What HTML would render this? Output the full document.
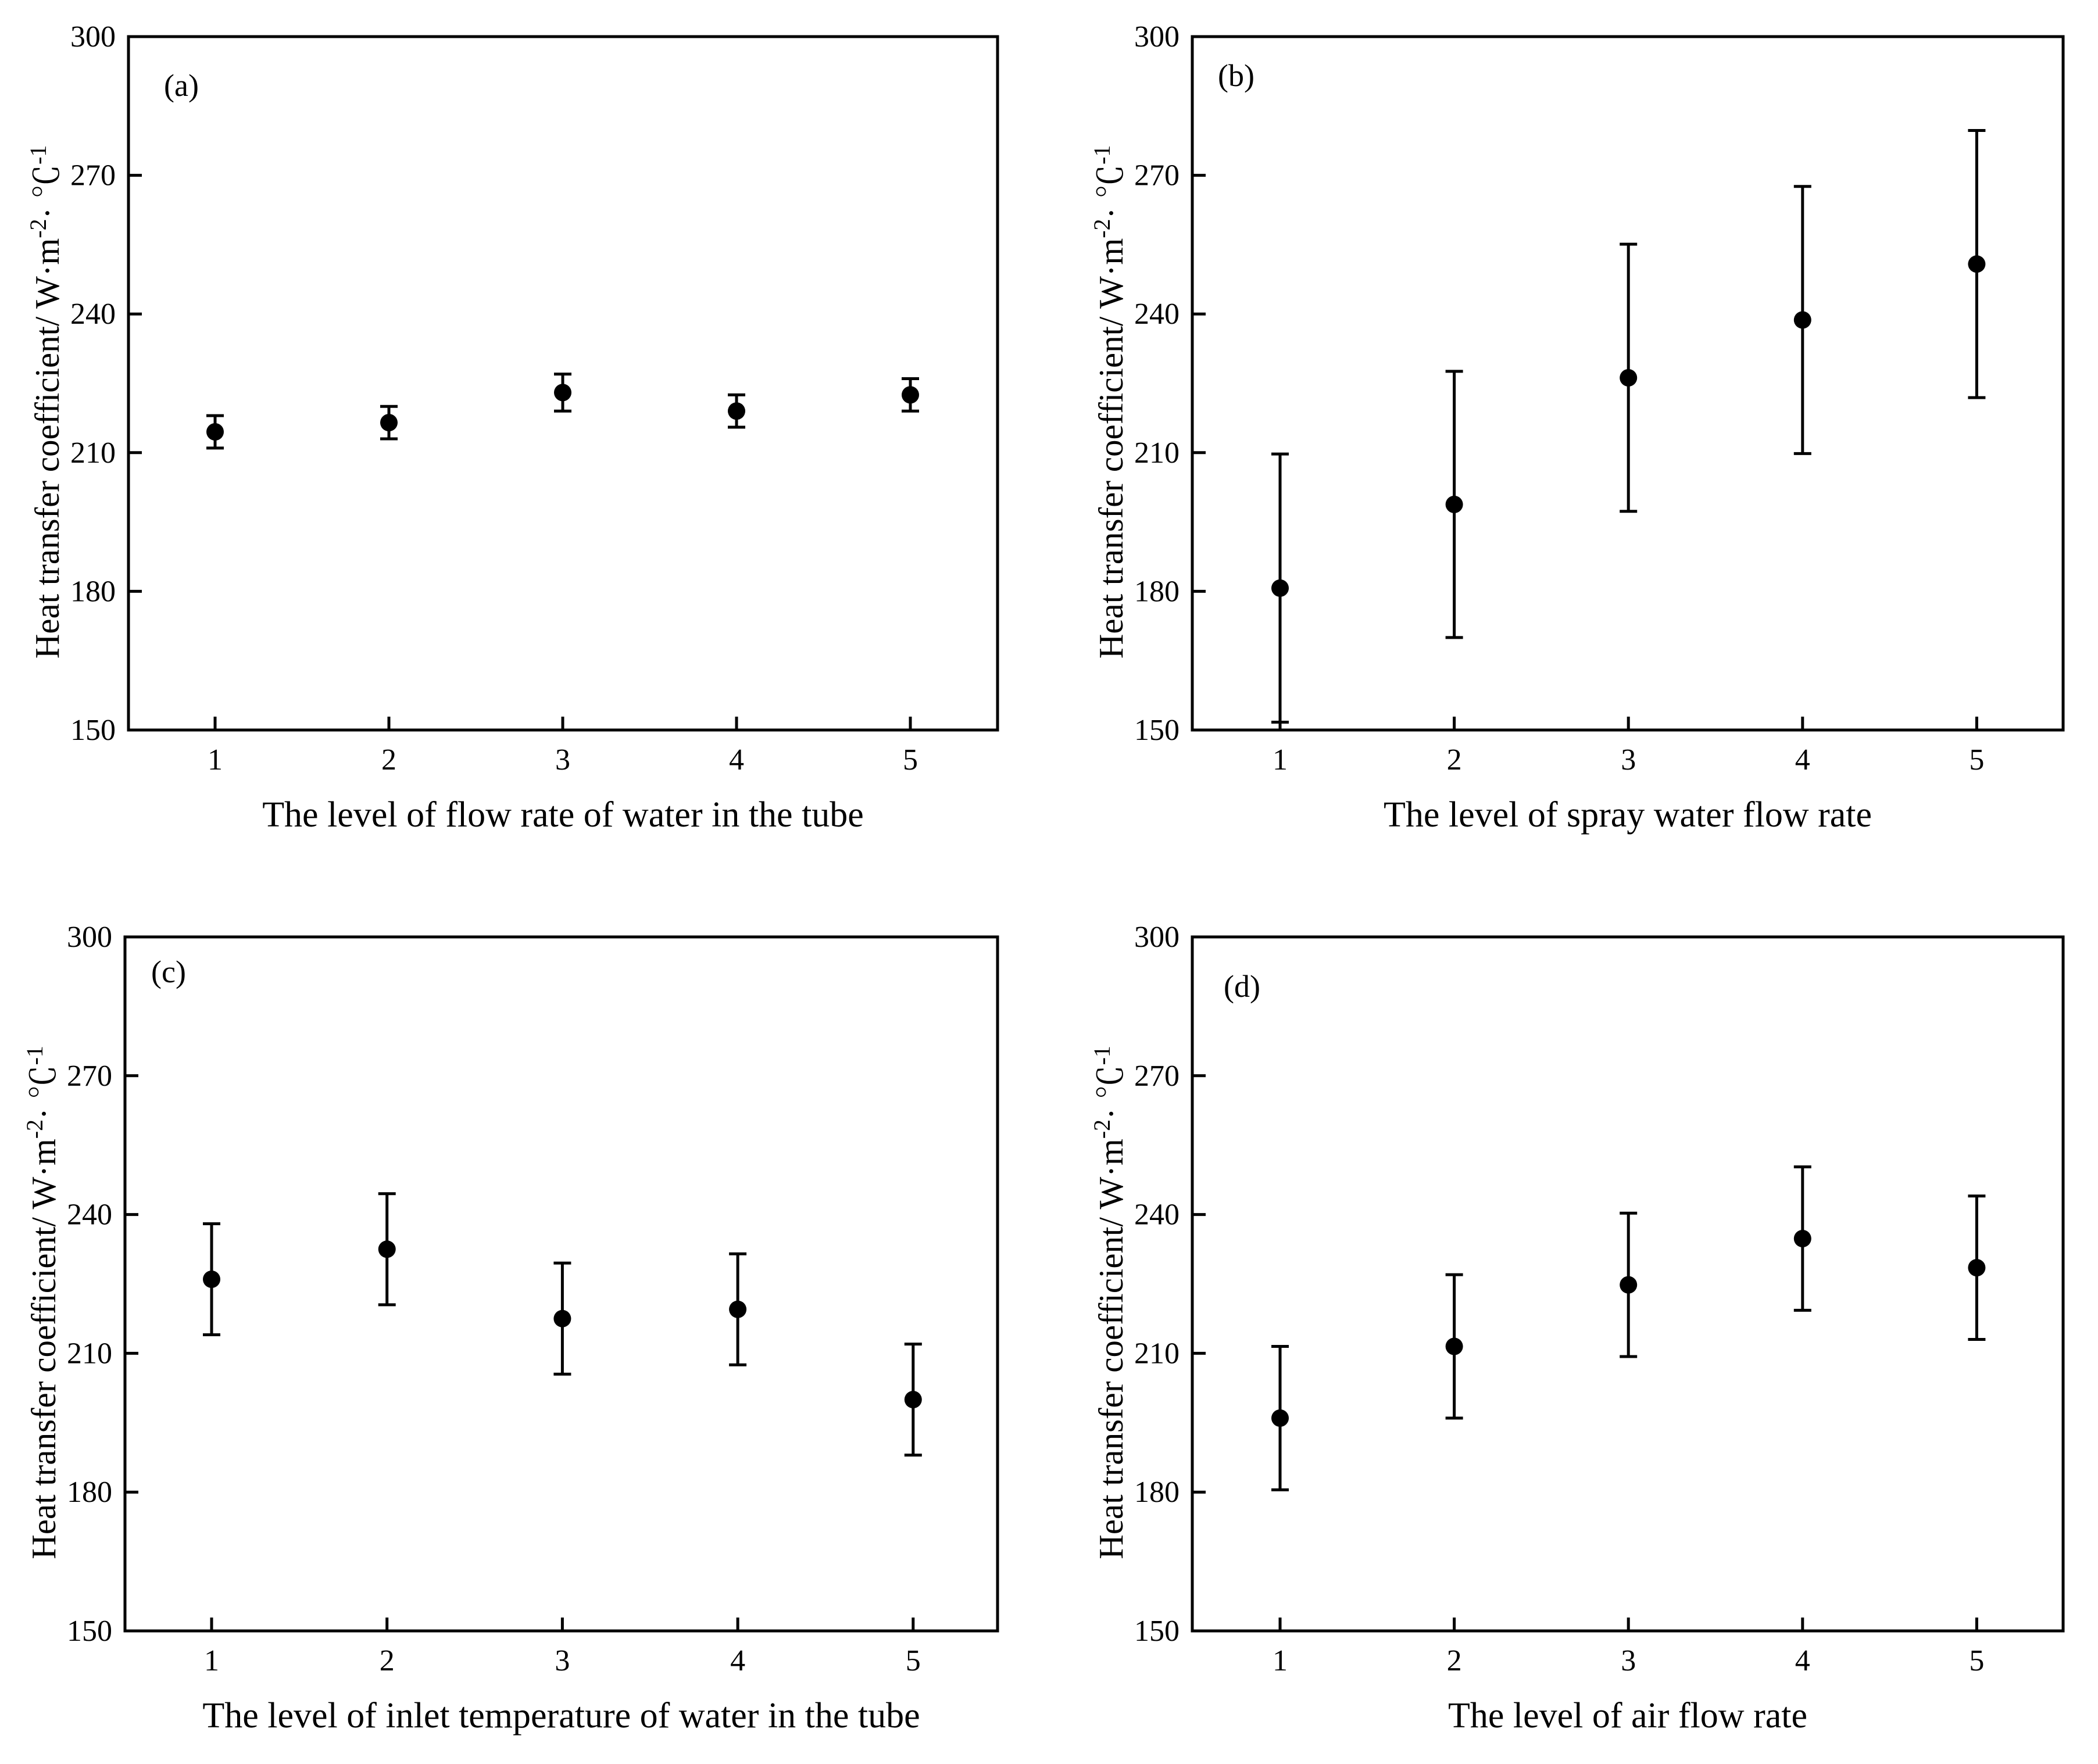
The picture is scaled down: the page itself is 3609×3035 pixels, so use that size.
<!DOCTYPE html>
<html><head><meta charset="utf-8"><style>
html,body{margin:0;padding:0;background:#fff;}
svg{display:block;font-family:"Liberation Serif","Noto Serif CJK SC",serif;}
</style></head><body>
<svg id="fig" width="3609" height="3035" viewBox="0 0 3609 3035" xmlns="http://www.w3.org/2000/svg"></svg>
<script>
const levels = [1,2,3,4,5];
const yTicks = [150,180,210,240,270,300];
const meansA = [214.5,216.5,223,219,222.5];
const errA   = [3.5,3.5,4,3.5,3.5];
const meansB = [180.7,198.8,226.2,238.7,250.8];
const errB   = [29,28.8,28.9,28.9,28.9];
const meansC = [226,232.5,217.5,219.5,200];
const errC   = [12,12,12,12,12];
const meansD = [196,211.5,224.8,234.8,228.5];
const errD   = [15.5,15.5,15.5,15.5,15.5];
const labelsX = ["The level of flow rate of water in the tube","The level of spray water flow rate","The level of inlet temperature of water in the tube","The level of air flow rate"];
const panelTags = ["(a)","(b)","(c)","(d)"];

const NS="http://www.w3.org/2000/svg";
const svg=document.getElementById('fig');
function mk(tag,attrs,parent){const e=document.createElementNS(NS,tag);for(const k in attrs)e.setAttribute(k,attrs[k]);(parent||svg).appendChild(e);return e;}

const panels=[
 {L:221,R:1716,T:63,B:1256,x1:370,dx:299,means:meansA,err:errA,tx:282,ty:165},
 {L:2051,R:3549,T:63,B:1256,x1:2202,dx:299.6,means:meansB,err:errB,tx:2095,ty:148},
 {L:215,R:1716,T:1612,B:2806,x1:364,dx:301.7,means:meansC,err:errC,tx:260,ty:1690},
 {L:2051,R:3549,T:1612,B:2806,x1:2202,dx:299.6,means:meansD,err:errD,tx:2105,ty:1715},
];
panels.forEach((p,i)=>{
  const g=mk('g',{});
  
  
  const ys=v=>p.B-(v-150)/150*(p.B-p.T);
  const xs=l=>p.x1+(l-1)*p.dx;
  const box=mk('rect',{x:p.L,y:p.T,width:p.R-p.L,height:p.B-p.T,fill:'none',stroke:'#000','stroke-width':5},g);
  
  
  yTicks.forEach(v=>{
    const y=ys(v);
    const t=mk('line',{x1:p.L,x2:p.L+23,y1:y,y2:y,stroke:'#000','stroke-width':5},g);
    
    
    const tl=mk('text',{x:p.L-22,y:y+17,'text-anchor':'end','font-size':52},g);
    tl.textContent=v;
    
    
  });
  levels.forEach(l=>{
    const x=xs(l);
    const t=mk('line',{x1:x,x2:x,y1:p.B,y2:p.B-23,stroke:'#000','stroke-width':5},g);
    
    
    const tl=mk('text',{x:x,y:p.B+68,'text-anchor':'middle','font-size':52},g);
    tl.textContent=l;
    
    
  });
  p.means.forEach((m,j)=>{
    const x=xs(levels[j]),yt=ys(m+p.err[j]),yb=ys(m-p.err[j]),y=ys(m);
    const eb=mk('path',{d:`M${x},${yt}V${yb}M${x-15},${yt}H${x+15}M${x-15},${yb}H${x+15}`,stroke:'#000','stroke-width':5,fill:'none'},g);
    
    
    const c=mk('circle',{cx:x,cy:y,r:15,fill:'#000'},g);
    
    
  });
  const tag=mk('text',{x:p.tx,y:p.ty,'font-size':54},g);
  tag.textContent=panelTags[i];
  
  
  const xt=mk('text',{x:(p.L+p.R)/2,y:p.B+166,'text-anchor':'middle','font-size':62},g);
  xt.textContent=labelsX[i];
  
  
  const cx=p.L-120, cy=(p.T+p.B)/2+32;
  const yt=mk('text',{x:cx,y:cy,'text-anchor':'middle','font-size':59,transform:`rotate(-90 ${cx} ${cy})`},g);
  
  
  yt.innerHTML='Heat transfer coefficient/ W·m<tspan dy="-22" font-size="40">-2</tspan><tspan dy="22">· ℃</tspan><tspan dy="-22" font-size="40">-1</tspan>';
});
</script>
</body></html>
